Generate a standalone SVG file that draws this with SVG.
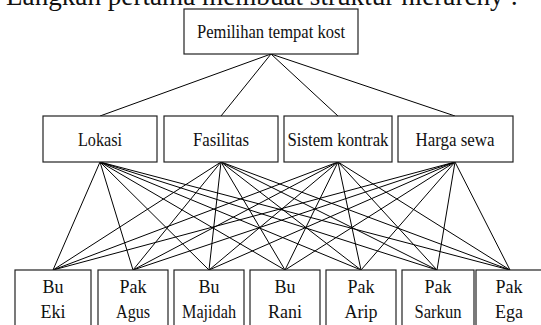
<svg xmlns="http://www.w3.org/2000/svg" width="541" height="325" viewBox="0 0 541 325">
<style>
.box{fill:#fff;stroke:#222;stroke-width:1.2}
.t{font-family:"Liberation Serif","Times New Roman",serif;font-size:18px;fill:#111;text-anchor:middle}
.title{font-family:"Liberation Serif","Times New Roman",serif;font-size:28px;fill:#111}
.c line{stroke:#000;stroke-width:1}
</style>
<rect width="541" height="325" fill="#fff"/>
<text class="title" x="6" y="5" textLength="512" lengthAdjust="spacingAndGlyphs">Langkah pertama membuat struktur hierarchy :</text>
<g class="c" id="connectors">
<line x1="271" y1="54" x2="100" y2="116"/>
<line x1="271" y1="54" x2="221" y2="116"/>
<line x1="271" y1="54" x2="338" y2="116"/>
<line x1="271" y1="54" x2="455" y2="116"/>
<line x1="100" y1="162" x2="53" y2="270"/>
<line x1="100" y1="162" x2="133" y2="270"/>
<line x1="100" y1="162" x2="209" y2="270"/>
<line x1="100" y1="162" x2="285" y2="270"/>
<line x1="100" y1="162" x2="361" y2="270"/>
<line x1="100" y1="162" x2="437" y2="270"/>
<line x1="100" y1="162" x2="510" y2="270"/>
<line x1="221" y1="162" x2="53" y2="270"/>
<line x1="221" y1="162" x2="133" y2="270"/>
<line x1="221" y1="162" x2="209" y2="270"/>
<line x1="221" y1="162" x2="285" y2="270"/>
<line x1="221" y1="162" x2="361" y2="270"/>
<line x1="221" y1="162" x2="437" y2="270"/>
<line x1="221" y1="162" x2="510" y2="270"/>
<line x1="338" y1="162" x2="53" y2="270"/>
<line x1="338" y1="162" x2="133" y2="270"/>
<line x1="338" y1="162" x2="209" y2="270"/>
<line x1="338" y1="162" x2="285" y2="270"/>
<line x1="338" y1="162" x2="361" y2="270"/>
<line x1="338" y1="162" x2="437" y2="270"/>
<line x1="338" y1="162" x2="510" y2="270"/>
<line x1="455" y1="162" x2="53" y2="270"/>
<line x1="455" y1="162" x2="133" y2="270"/>
<line x1="455" y1="162" x2="209" y2="270"/>
<line x1="455" y1="162" x2="285" y2="270"/>
<line x1="455" y1="162" x2="361" y2="270"/>
<line x1="455" y1="162" x2="437" y2="270"/>
<line x1="455" y1="162" x2="510" y2="270"/>
</g>
<g id="goal"><rect class="box" x="184" y="9" width="174" height="45"/><text class="t" x="271" y="37.5" textLength="148" lengthAdjust="spacingAndGlyphs">Pemilihan tempat kost</text></g>
<g id="lokasi"><rect class="box" x="43" y="116" width="114" height="46"/><text class="t" x="100" y="146" textLength="44" lengthAdjust="spacingAndGlyphs">Lokasi</text></g>
<g id="fasilitas"><rect class="box" x="164" y="116" width="114" height="46"/><text class="t" x="221" y="146" textLength="56" lengthAdjust="spacingAndGlyphs">Fasilitas</text></g>
<g id="sistem-kontrak"><rect class="box" x="284" y="116" width="108" height="46"/><text class="t" x="338" y="146" textLength="101" lengthAdjust="spacingAndGlyphs">Sistem kontrak</text></g>
<g id="harga-sewa"><rect class="box" x="398" y="116" width="115" height="46"/><text class="t" x="455" y="146" textLength="79" lengthAdjust="spacingAndGlyphs">Harga sewa</text></g>
<g id="bu-eki"><rect class="box" x="15" y="270" width="76" height="70"/><text class="t" x="53" y="293">Bu</text><text class="t" x="53" y="318">Eki</text></g>
<g id="pak-agus"><rect class="box" x="98" y="270" width="70" height="70"/><text class="t" x="133" y="293">Pak</text><text class="t" x="133" y="318" textLength="34" lengthAdjust="spacingAndGlyphs">Agus</text></g>
<g id="bu-majidah"><rect class="box" x="174" y="270" width="70" height="70"/><text class="t" x="209" y="293">Bu</text><text class="t" x="209" y="318" textLength="54" lengthAdjust="spacingAndGlyphs">Majidah</text></g>
<g id="bu-rani"><rect class="box" x="250" y="270" width="70" height="70"/><text class="t" x="285" y="293">Bu</text><text class="t" x="285" y="318">Rani</text></g>
<g id="pak-arip"><rect class="box" x="326" y="270" width="70" height="70"/><text class="t" x="361" y="293">Pak</text><text class="t" x="361" y="318">Arip</text></g>
<g id="pak-sarkun"><rect class="box" x="402" y="270" width="72" height="70"/><text class="t" x="438" y="293">Pak</text><text class="t" x="438" y="318" textLength="47" lengthAdjust="spacingAndGlyphs">Sarkun</text></g>
<g id="pak-ega"><rect class="box" x="476" y="270" width="68" height="70"/><text class="t" x="509" y="293">Pak</text><text class="t" x="509" y="318">Ega</text></g>
</svg>
